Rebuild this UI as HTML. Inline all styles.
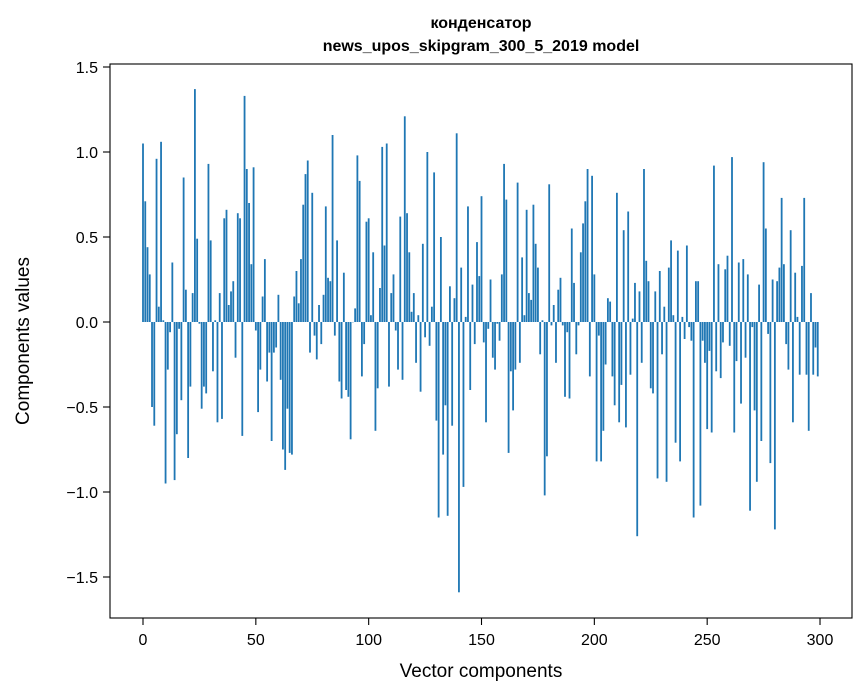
<!DOCTYPE html>
<html><head><meta charset="utf-8">
<style>
html,body{margin:0;padding:0;background:#fff;}
svg{display:block;font-family:"Liberation Sans","DejaVu Sans",sans-serif;}
</style></head>
<body>
<svg id="chart" width="867" height="696" viewBox="0 0 867 696" xmlns="http://www.w3.org/2000/svg">
<rect x="0" y="0" width="867" height="696" fill="#fff"/>
<text x="481" y="28" text-anchor="middle" font-size="16" font-weight="bold">конденсатор</text>
<text x="481" y="51" text-anchor="middle" font-size="16" font-weight="bold">news_upos_skipgram_300_5_2019 model</text>
<g id="bars"></g>
<g id="axes"></g>
<rect x="110" y="64" width="742" height="554" fill="none" stroke="#000" stroke-width="1.1"/>
<text x="481" y="677" text-anchor="middle" font-size="19">Vector components</text>
<text transform="translate(29,341) rotate(-90)" text-anchor="middle" font-size="19">Components values</text>
</svg>
<script>
const values = [
1.05,0.71,0.44,0.28,-0.50,-0.61,0.96,0.09,1.06,0.01,
-0.95,-0.28,-0.06,0.35,-0.93,-0.66,-0.04,-0.46,0.85,0.19,
-0.80,-0.38,0.17,1.37,0.49,-0.01,-0.51,-0.38,-0.42,0.93,
0.48,-0.29,0.01,-0.59,0.17,-0.57,0.61,0.66,0.10,0.18,
0.24,-0.21,0.64,0.61,-0.67,1.33,0.90,0.70,0.34,0.91,
-0.05,-0.53,-0.28,0.15,0.37,-0.35,-0.18,-0.70,-0.18,-0.15,
0.16,-0.34,-0.75,-0.87,-0.51,-0.77,-0.78,0.15,0.30,0.11,
0.37,0.69,0.87,0.95,-0.18,0.76,-0.08,-0.22,0.10,-0.13,
0.16,0.68,0.26,0.24,1.10,-0.08,0.48,-0.35,-0.45,0.29,
-0.40,-0.44,-0.69,0.00,0.08,0.98,0.83,-0.32,-0.13,0.59,
0.61,0.04,0.41,-0.64,-0.39,0.20,1.03,0.45,1.05,-0.38,
0.17,0.28,-0.05,-0.28,0.62,-0.34,1.21,0.64,0.41,0.06,
0.17,-0.24,0.04,-0.41,0.46,-0.09,1.00,-0.14,0.09,0.88,
-0.58,-1.15,0.50,-0.78,-0.49,-1.14,0.21,-0.61,0.14,1.11,
-1.59,0.32,-0.97,0.03,0.68,-0.40,0.22,-0.13,0.47,0.27,
0.74,-0.12,-0.59,-0.04,0.25,-0.21,-0.28,-0.01,-0.11,0.28,
0.93,0.72,-0.77,-0.29,-0.52,-0.28,0.82,-0.24,0.38,0.04,
0.66,0.17,0.13,0.69,0.46,0.32,-0.19,0.01,-1.02,-0.79,
0.81,-0.02,0.10,-0.24,0.19,0.26,-0.02,-0.44,-0.06,-0.45,
0.55,0.23,-0.19,-0.02,0.41,0.58,0.71,0.90,-0.32,0.86,
0.28,-0.82,-0.08,-0.82,-0.64,-0.25,0.14,0.12,-0.32,-0.49,
0.76,-0.59,-0.37,0.54,-0.62,0.65,-0.31,0.02,0.23,-1.26,
0.18,-0.24,0.90,0.36,0.24,-0.39,-0.42,0.18,-0.92,0.30,
-0.19,0.09,-0.94,0.32,0.48,0.04,-0.71,0.42,-0.82,0.03,
-0.10,0.45,-0.03,-0.11,-1.15,0.24,0.24,-1.08,-0.11,-0.24,
-0.63,-0.17,-0.65,0.92,-0.29,0.34,-0.33,-0.12,0.31,0.39,
-0.14,0.97,-0.65,-0.23,0.35,-0.48,0.37,-0.21,0.28,-1.11,
-0.03,-0.52,-0.94,0.22,-0.70,0.94,0.55,-0.07,-0.83,0.25,
-1.22,0.24,0.32,0.73,0.34,-0.13,-0.28,0.54,-0.59,0.29,
0.03,-0.31,0.33,0.73,-0.31,-0.64,0.17,-0.31,-0.15,-0.32
];
const xTicks = [0,50,100,150,200,250,300];
const yTicks = [-1.5,-1.0,-0.5,0.0,0.5,1.0,1.5];
const yTickLabels = ["\u22121.5","\u22121.0","\u22120.5","0.0","0.5","1.0","1.5"];

const NS = "http://www.w3.org/2000/svg";
function xScale(v){ return 143 + v * 2.2567; }
function yScale(v){ return 322 - v * 170; }

const barsG = document.getElementById('bars');
values.forEach(function(v, i){
  const r = document.createElementNS(NS, 'rect');
  const y0 = yScale(0), y1 = yScale(v);
  r.setAttribute('x', xScale(i - 0.4));
  r.setAttribute('width', 0.8 * 2.2567);
  r.setAttribute('y', Math.min(y0, y1));
  r.setAttribute('height', Math.max(Math.abs(y1 - y0), 0.3));
  r.setAttribute('fill', '#1f77b4');
  
  
  barsG.appendChild(r);
});

const axesG = document.getElementById('axes');
xTicks.forEach(function(t){
  const x = xScale(t);
  const l = document.createElementNS(NS, 'line');
  l.setAttribute('x1', x); l.setAttribute('x2', x);
  l.setAttribute('y1', 618); l.setAttribute('y2', 625);
  l.setAttribute('stroke', '#000'); l.setAttribute('stroke-width', '1.1');
  
  
  axesG.appendChild(l);
  const tx = document.createElementNS(NS, 'text');
  tx.setAttribute('x', x); tx.setAttribute('y', 645);
  tx.setAttribute('text-anchor', 'middle'); tx.setAttribute('font-size', '16');
  tx.textContent = String(t);
  
  
  axesG.appendChild(tx);
});
yTicks.forEach(function(t, i){
  const y = yScale(t);
  const l = document.createElementNS(NS, 'line');
  l.setAttribute('x1', 103); l.setAttribute('x2', 110);
  l.setAttribute('y1', y); l.setAttribute('y2', y);
  l.setAttribute('stroke', '#000'); l.setAttribute('stroke-width', '1.1');
  
  
  axesG.appendChild(l);
  const tx = document.createElementNS(NS, 'text');
  tx.setAttribute('x', 98); tx.setAttribute('y', y + 6);
  tx.setAttribute('text-anchor', 'end'); tx.setAttribute('font-size', '16');
  tx.textContent = yTickLabels[i];
  
  
  axesG.appendChild(tx);
});
</script>
</body></html>
